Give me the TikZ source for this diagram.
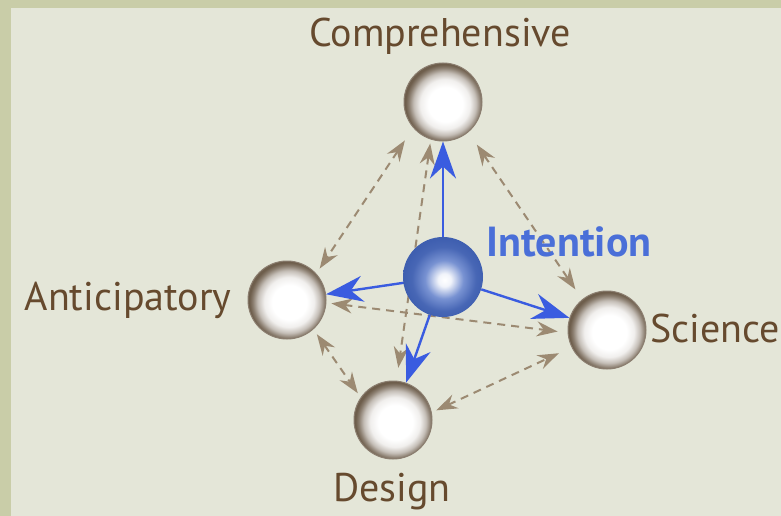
\documentclass[tikz,border=0pt]{standalone}
\usepackage{fontspec}
\setmainfont{PT Sans}
\usetikzlibrary{arrows.meta}
\definecolor{bgborder}{HTML}{C9CDA8}
\definecolor{bgpanel}{HTML}{E4E6D8}
\definecolor{txtbrown}{HTML}{664A2E}
\definecolor{rimbrown}{HTML}{6E5E4C}
\definecolor{dashbrown}{HTML}{9C8A72}
\definecolor{arrowblue}{HTML}{3A5CE0}
\definecolor{intblue}{HTML}{4A6FD8}
\definecolor{sph1}{HTML}{3F5FB0}
\definecolor{sph2}{HTML}{7892D2}
\pgfdeclareradialshading{brownball}{\pgfpoint{2bp}{-2bp}}{%
  color(0bp)=(white); color(11bp)=(white); color(16bp)=(rimbrown!10);
  color(20bp)=(rimbrown!40); color(23bp)=(rimbrown!80); color(25bp)=(rimbrown); color(50bp)=(rimbrown)}
\pgfdeclareradialshading{blueball}{\pgfpoint{1bp}{-2bp}}{%
  color(0bp)=(white); color(4bp)=(white!90!sph2); color(12bp)=(sph2); color(20bp)=(sph1!85!sph2);
  color(25bp)=(sph1); color(50bp)=(sph1)}
\tikzset{
  ball/.style={circle, minimum size=78pt, inner sep=0pt, shading=brownball, draw=rimbrown!80, line width=1pt},
  intball/.style={circle, minimum size=80pt, inner sep=0pt, shading=blueball},
  lab/.style={font=\fontsize{40}{44}\selectfont, text=txtbrown, inner sep=0pt},
  blue arrow/.style={draw=arrowblue, line width=2.4pt, -{Stealth[length=37pt,width=26pt,inset=12pt]}},
  dash link/.style={draw=dashbrown, line width=2pt, dash pattern=on 8pt off 6pt,
     {Stealth[length=21pt,width=15pt,inset=7pt]}-{Stealth[length=21pt,width=15pt,inset=7pt]}},
}
\begin{document}
\begin{tikzpicture}[x=1pt,y=-1pt]
\fill[bgborder] (0,0) rectangle (781,516);
\fill[bgpanel] (11,8) rectangle (781,516);
\useasboundingbox (0,0) rectangle (781,516);
% nodes
\node[ball] (comp) at (443,102) {};
\node[ball] (antic) at (287,300) {};
\node[ball] (sci) at (607,330) {};
\node[ball] (des) at (393,420) {};
% dashed links (behind sphere)
\draw[dash link, shorten <=15pt, shorten >=6pt] (comp.221) -- (antic.42);
\draw[dash link, shorten <=15pt, shorten >=12pt] (comp.310) -- (sci.129);
\draw[dash link, shorten <=4pt, shorten >=13pt] (comp.252) -- (des.85);
\draw[dash link, shorten <=5pt, shorten >=10pt] (antic.356) -- (sci.184);
\draw[dash link, shorten <=6pt, shorten >=5pt] (antic.312) -- (des.145);
\draw[dash link, shorten <=5pt, shorten >=14pt] (des.11) -- (sci.206);
% intention sphere
\node[intball] (int) at (443,277) {};
\draw[blue arrow] (int) -- (comp);
\draw[blue arrow] (int) -- (antic);
\draw[blue arrow] (int) -- (sci);
\draw[blue arrow] (int) -- (des);
% labels
\node[lab] (lcomp) at (440,36) {Comprehensive};
\node[lab] (lantic) at (128,300) {Anticipatory};
\node[lab, anchor=east] (lsci) at (780,328) {Science};
\node[lab] (ldes) at (392,492) {Design};
\node[lab, text=intblue, font=\fontsize{42}{46}\selectfont\bfseries] (lint) at (569,242) {Intention};
\end{tikzpicture}
\end{document}
